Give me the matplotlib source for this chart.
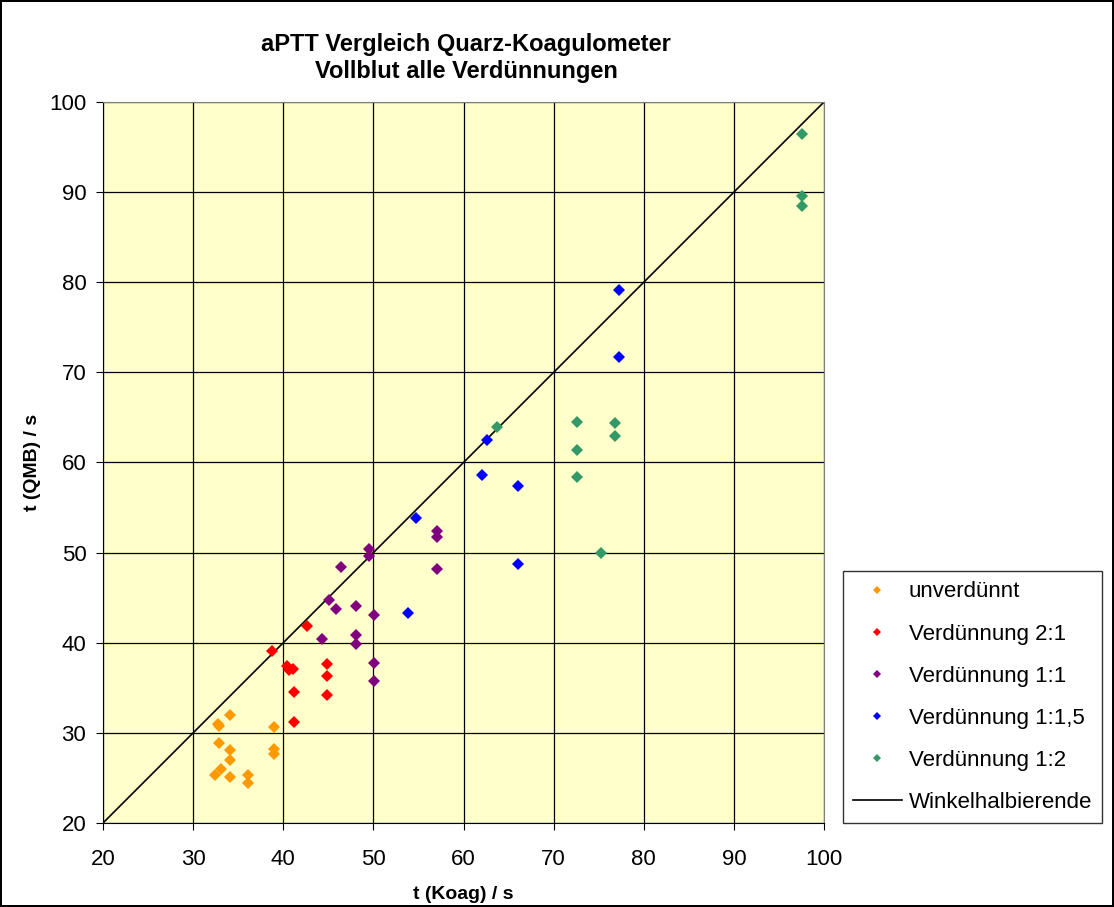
import matplotlib.pyplot as plt
from matplotlib.lines import Line2D

plt.rcParams['font.family'] = ['Liberation Sans', 'DejaVu Sans']

# data (t Koag, t QMB)
unv_x = [34.1, 32.8, 32.9, 39.0, 32.9, 34.1, 34.1, 39.0, 39.0, 33.1, 32.4, 34.1, 36.1, 36.1]
unv_y = [32.0, 31.0, 30.8, 30.7, 28.9, 28.1, 27.0, 28.2, 27.7, 26.0, 25.3, 25.1, 25.3, 24.4]

v21_x = [42.6, 38.8, 40.4, 40.6, 41.1, 44.9, 44.9, 41.2, 44.9, 41.2]
v21_y = [41.9, 39.1, 37.4, 37.0, 37.1, 37.6, 36.3, 34.5, 34.2, 31.2]

v11_x = [49.5, 49.5, 57.1, 57.1, 46.4, 57.1, 45.1, 45.8, 48.1, 50.1, 44.3, 48.1, 48.1, 50.1, 50.1]
v11_y = [50.4, 49.6, 52.4, 51.7, 48.4, 48.2, 44.7, 43.8, 44.1, 43.1, 40.4, 40.9, 39.9, 37.7, 35.8]

v115_x = [54.7, 53.8, 62.6, 62.0, 66.0, 66.0, 77.3, 77.3]
v115_y = [53.8, 43.3, 62.5, 58.6, 57.4, 48.7, 79.1, 71.7]

v12_x = [63.7, 72.6, 72.6, 72.6, 76.8, 76.8, 75.3, 97.6, 97.6, 97.6]
v12_y = [63.9, 64.5, 61.4, 58.4, 64.4, 62.9, 50.0, 96.5, 89.6, 88.5]

labels = ['unverdünnt', 'Verdünnung 2:1', 'Verdünnung 1:1',
          'Verdünnung 1:1,5', 'Verdünnung 1:2']
colors = ['#FF9900', '#FF0000', '#800080', '#0000FF', '#339966']
series = [(unv_x, unv_y), (v21_x, v21_y), (v11_x, v11_y),
          (v115_x, v115_y), (v12_x, v12_y)]

fig = plt.figure(figsize=(11.14, 9.07), dpi=100, edgecolor='black', linewidth=1.5)
ax = fig.add_axes([103 / 1114, 1 - 823 / 907, 721 / 1114, 721 / 907])
ax.set_facecolor('#FFFFCC')

for (x, y), c in zip(series, colors):
    ax.plot(x, y, 'D', color=c, markersize=5.8, markeredgewidth=0, zorder=3)
ax.plot([20, 100], [20, 100], color='black', linewidth=1.2, zorder=2)

ax.set_xlim(20, 100)
ax.set_ylim(20, 100)
ax.set_xticks(range(20, 101, 10))
ax.set_yticks(range(20, 101, 10))
ax.grid(True, color='black', linewidth=0.9)
ax.set_axisbelow(True)
ax.tick_params(labelsize=16, direction='out', length=5, color='black')
ax.tick_params(axis='x', pad=14)
ax.tick_params(axis='y', pad=7)
for s in ax.spines.values():
    s.set_color('#808080')
ax.spines['left'].set_color('black')
ax.spines['bottom'].set_color('black')

ax.set_xlabel('t (Koag) / s', fontsize=14, fontweight='bold', labelpad=11)
ax.set_ylabel('t (QMB) / s', fontsize=14, fontweight='bold', labelpad=6)
fig.text(466 / 1114, 1 - 58 / 907, 'aPTT Vergleich Quarz-Koagulometer\nVollblut alle Verdünnungen',
         ha='center', va='center', fontsize=17, fontweight='bold', linespacing=1.25)

handles = [Line2D([], [], marker='D', linestyle='none', color=c, markersize=4.5,
                  markeredgewidth=0) for c in colors]
handles.append(Line2D([], [], color='black', linewidth=1.2))
leg = fig.legend(handles, labels + ['Winkelhalbierende'],
                 loc='lower left', bbox_to_anchor=(843 / 1114, 1 - 823 / 907),
                 fontsize=16, frameon=True, fancybox=False, labelspacing=0.95,
                 handlelength=2.2, handletextpad=0.3, borderpad=0.45, borderaxespad=0)
leg.get_frame().set_edgecolor('black')
leg.get_frame().set_linewidth(1)

plt.savefig('out.png', dpi=100)
